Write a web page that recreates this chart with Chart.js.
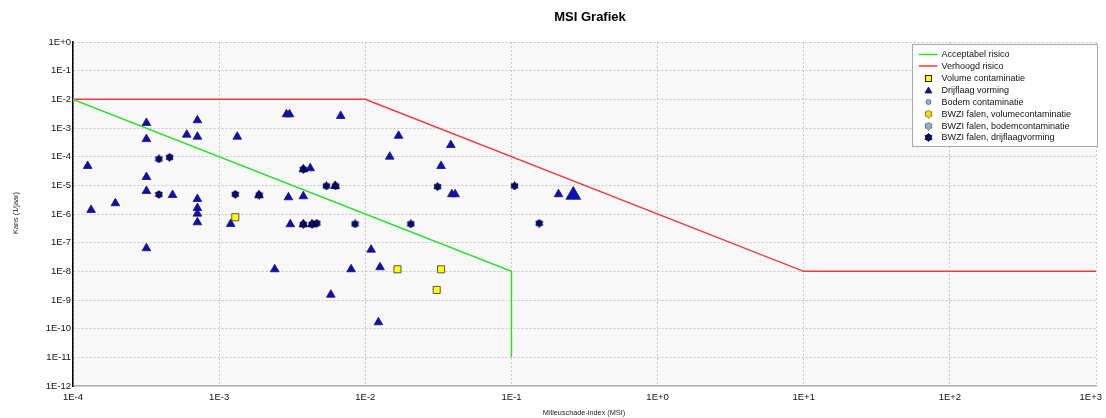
<!DOCTYPE html>
<html>
<head>
<meta charset="utf-8">
<script src="https://cdn.jsdelivr.net/npm/chart.js@4.4.0/dist/chart.umd.min.js"></script>
<style>
  html, body { margin: 0; padding: 0; background: #ffffff; }
  #wrap { width: 1106px; height: 418px; }
</style>
</head>
<body>
<div id="wrap"><canvas id="c" width="1106" height="418"></canvas></div>
<script>
// ---- Data ----
const titleText = 'MSI Grafiek';
const xAxisTitle = 'Milieuschade-index (MSI)';
const yAxisTitle = 'Kans (1/jaar)';

const xTickLabels = ['1E-4', '1E-3', '1E-2', '1E-1', '1E+0', '1E+1', '1E+2', '1E+3'];
const yTickLabels = ['1E+0', '1E-1', '1E-2', '1E-3', '1E-4', '1E-5', '1E-6', '1E-7', '1E-8', '1E-9', '1E-10', '1E-11', '1E-12'];

const seriesNames = ['Acceptabel risico', 'Verhoogd risico', 'Volume contaminatie', 'Drijflaag vorming',
  'Bodem contaminatie', 'BWZI falen, volumecontaminatie', 'BWZI falen, bodemcontaminatie', 'BWZI falen, drijflaagvorming'];

const acceptX = [1e-4, 1e-1, 1e-1];
const acceptY = [1e-2, 1e-8, 1e-11];

const verhoogdX = [1e-4, 1e-2, 1e1, 1e3];
const verhoogdY = [1e-2, 1e-2, 1e-8, 1e-8];

const volumeX = [1.29e-3, 1.66e-2, 3.30e-2, 3.08e-2];
const volumeY = [7.7e-7, 1.18e-8, 1.18e-8, 2.24e-9];

const drijfX = [1.26e-4, 1.33e-4, 1.95e-4, 3.18e-4, 3.18e-4, 3.18e-4, 3.18e-4, 3.18e-4, 4.8e-4, 6.0e-4,
  7.1e-4, 7.1e-4, 7.1e-4, 7.1e-4, 7.1e-4, 7.1e-4, 1.33e-3, 1.20e-3, 1.87e-3, 2.89e-3,
  3.03e-3, 6.79e-3, 3.77e-3, 4.2e-3, 6.21e-3, 2.98e-3, 3.77e-3, 3.07e-3, 3.77e-3, 4.32e-3,
  1.096e-2, 2.40e-3, 8.0e-3, 1.262e-2, 5.81e-3, 1.23e-2, 1.69e-2, 1.47e-2, 3.85e-2, 3.30e-2,
  3.91e-2, 4.12e-2, 0.210, 0.265];
const drijfY = [4.73e-5, 1.38e-6, 2.37e-6, 1.5e-3, 4.1e-4, 1.95e-5, 6.35e-6, 6.4e-8, 4.6e-6, 5.85e-4,
  1.86e-3, 4.97e-4, 3.34e-6, 1.62e-6, 1.03e-6, 5.14e-7, 4.97e-4, 4.49e-7, 4.5e-6, 3.0e-3,
  3.0e-3, 2.62e-3, 3.63e-5, 3.93e-5, 9.5e-6, 3.83e-6, 4.15e-6, 4.38e-7, 4.38e-7, 4.38e-7,
  5.7e-8, 1.18e-8, 1.18e-8, 1.39e-8, 1.53e-9, 1.67e-10, 5.35e-4, 1.0e-4, 2.55e-4, 4.73e-5,
  4.88e-6, 4.88e-6, 4.88e-6, 4.6e-6];

const bodemX = [];
const bodemY = [];
const bwziVolX = [];
const bwziVolY = [];
const bwziBodemX = [];
const bwziBodemY = [];

const bwziDrijfX = [3.87e-4, 4.58e-4, 3.87e-4, 1.29e-3, 1.88e-3, 3.77e-3, 5.42e-3, 6.27e-3, 3.77e-3, 4.32e-3,
  4.66e-3, 8.51e-3, 3.12e-2, 0.105, 2.05e-2, 0.155];
const bwziDrijfY = [8.3e-5, 9.5e-5, 4.8e-6, 4.88e-6, 4.6e-6, 3.63e-5, 9.5e-6, 9.5e-6, 4.38e-7, 4.38e-7,
  4.75e-7, 4.49e-7, 8.97e-6, 9.5e-6, 4.49e-7, 4.75e-7];

// ---- helpers ----
const pts = (xs, ys) => xs.map((x, i) => ({ x: x, y: ys[i] }));
const FONT = "'Liberation Sans', Arial, sans-serif";
const TICK_FONT_SIZE = 9.5;

function makeStar(fill, stroke, size) {
  const c = document.createElement('canvas');
  c.width = size; c.height = size;
  const g = c.getContext('2d');
  const cx = size / 2, R = size / 2 - 0.5, r = R * 0.72;
  g.beginPath();
  for (let i = 0; i < 12; i++) {
    const a = Math.PI / 6 * i - Math.PI / 2;
    const rad = (i % 2) ? r : R;
    g.lineTo(cx + rad * Math.cos(a), cx + rad * Math.sin(a));
  }
  g.closePath();
  g.fillStyle = fill; g.fill();
  g.lineWidth = 0.8; g.strokeStyle = stroke; g.stroke();
  return c;
}
const starDrijf = makeStar('#08087a', '#000018', 9);
const starVol = makeStar('#f5e000', '#555500', 9);
const starBodem = makeStar('#8fb0c8', '#506070', 9);

const GREEN = '#2be02b', RED = '#f23a3a';
const TRI_FILL = '#0c0cc8', TRI_BORDER = '#1a1a40';
const YEL_FILL = '#ffff00', YEL_BORDER = '#555555';
const BODEM_FILL = '#8fb8d0', BODEM_BORDER = '#607080';

const bigIndex = drijfX.length - 1;

const datasets = [
  { label: seriesNames[0], data: pts(acceptX, acceptY), showLine: true, borderColor: GREEN, borderWidth: 1.5,
    pointRadius: 0, fill: false, tension: 0, order: 5 },
  { label: seriesNames[1], data: pts(verhoogdX, verhoogdY), showLine: true, borderColor: RED, borderWidth: 1.5,
    pointRadius: 0, fill: false, tension: 0, order: 5 },
  { label: seriesNames[2], data: pts(volumeX, volumeY), showLine: false, pointStyle: 'rect', pointRadius: 5,
    backgroundColor: YEL_FILL, borderColor: YEL_BORDER, borderWidth: 1, order: 1 },
  { label: seriesNames[3], data: pts(drijfX, drijfY), showLine: false, pointStyle: 'triangle',
    pointRadius: (ctx) => ctx.dataIndex === bigIndex ? 8.5 : 5,
    backgroundColor: TRI_FILL, borderColor: TRI_BORDER, borderWidth: 0.8, order: 2 },
  { label: seriesNames[4], data: pts(bodemX, bodemY), showLine: false, pointStyle: 'circle', pointRadius: 3,
    backgroundColor: BODEM_FILL, borderColor: BODEM_BORDER, borderWidth: 1, order: 1 },
  { label: seriesNames[5], data: pts(bwziVolX, bwziVolY), showLine: false, pointStyle: starVol, order: 1 },
  { label: seriesNames[6], data: pts(bwziBodemX, bwziBodemY), showLine: false, pointStyle: starBodem, order: 1 },
  { label: seriesNames[7], data: pts(bwziDrijfX, bwziDrijfY), showLine: false, pointStyle: starDrijf, order: 1 }
];

const decorPlugin = {
  id: 'decor',
  beforeDraw(chart) {
    const { ctx, chartArea: a } = chart;
    ctx.save();
    ctx.fillStyle = '#f8f8f8';
    ctx.fillRect(a.left, a.top, a.right - a.left, a.bottom - a.top);
    ctx.restore();
  },
  afterDraw(chart) {
    const { ctx, chartArea: a } = chart;
    ctx.save();
    // Last x tick label kept inside the canvas
    ctx.fillStyle = '#111';
    ctx.font = TICK_FONT_SIZE + 'px ' + FONT;
    ctx.textAlign = 'right';
    ctx.textBaseline = 'top';
    ctx.fillText(xTickLabels[xTickLabels.length - 1], 1102, a.bottom + 7);
    // Title
    ctx.fillStyle = '#000';
    ctx.font = 'bold 13px ' + FONT;
    ctx.textAlign = 'center';
    ctx.textBaseline = 'middle';
    ctx.fillText(titleText, 590, 17);
    // X axis title
    ctx.font = '7.3px ' + FONT;
    ctx.fillStyle = '#222';
    ctx.fillText(xAxisTitle, 584, 413);
    // Y axis title
    ctx.save();
    ctx.translate(16, (a.top + a.bottom) / 2 - 1);
    ctx.rotate(-Math.PI / 2);
    ctx.fillText(yAxisTitle, 0, 0);
    ctx.restore();

    // Legend
    const bx = 912, by = 44, bw = 186, bh = 103;
    ctx.fillStyle = '#ffffff';
    ctx.fillRect(bx, by, bw, bh);
    ctx.strokeStyle = '#a8a8a8';
    ctx.lineWidth = 1;
    ctx.strokeRect(bx + 0.5, by + 0.5, bw - 1, bh - 1);
    const rows = [54.5, 66, 78.5, 90.5, 102, 114, 126, 137.5];
    const mx = 928.5, tx = 941.5;
    ctx.font = '9px ' + FONT;
    ctx.textAlign = 'left';
    ctx.textBaseline = 'middle';
    datasets.forEach((ds, i) => {
      const y = rows[i];
      ctx.save();
      if (i === 0 || i === 1) {
        ctx.strokeStyle = ds.borderColor; ctx.lineWidth = 1.5;
        ctx.beginPath(); ctx.moveTo(919, y); ctx.lineTo(937.5, y); ctx.stroke();
      } else if (i === 2) {
        ctx.fillStyle = YEL_FILL; ctx.strokeStyle = '#222'; ctx.lineWidth = 1;
        ctx.fillRect(mx - 3, y - 3, 6, 6); ctx.strokeRect(mx - 3, y - 3, 6, 6);
      } else if (i === 3) {
        ctx.fillStyle = TRI_FILL; ctx.strokeStyle = TRI_BORDER; ctx.lineWidth = 0.8;
        ctx.beginPath(); ctx.moveTo(mx, y - 3.5); ctx.lineTo(mx + 3.5, y + 2.5); ctx.lineTo(mx - 3.5, y + 2.5);
        ctx.closePath(); ctx.fill(); ctx.stroke();
      } else if (i === 4) {
        ctx.fillStyle = BODEM_FILL; ctx.strokeStyle = BODEM_BORDER; ctx.lineWidth = 1;
        ctx.beginPath(); ctx.arc(mx, y, 2.5, 0, Math.PI * 2); ctx.fill(); ctx.stroke();
      } else {
        const img = ds.pointStyle;
        ctx.drawImage(img, mx - img.width / 2, y - img.height / 2);
      }
      ctx.restore();
      ctx.fillStyle = '#111';
      ctx.fillText(ds.label, tx, y + 0.5);
    });
    ctx.restore();
  }
};

const fmtTicks = (labels) => (scale) => {
  scale.ticks = labels.map(l => ({ value: Number(l), label: l }));
};
const labelFor = (labels, skipLast) => function (v) {
  const i = labels.findIndex(l => Math.abs(Number(l) - v) < v * 1e-6);
  if (skipLast && i === labels.length - 1) return '';
  return i >= 0 ? labels[i] : '';
};

new Chart(document.getElementById('c'), {
  type: 'scatter',
  data: { datasets: datasets },
  options: {
    responsive: false,
    animation: false,
    devicePixelRatio: 1,
    layout: { padding: { top: 42, right: 10, bottom: 0, left: 0 } },
    plugins: {
      legend: { display: false },
      title: { display: false },
      tooltip: { enabled: false }
    },
    scales: {
      x: {
        type: 'logarithmic',
        min: 1e-4, max: 1e3,
        afterBuildTicks: fmtTicks(xTickLabels),
        afterFit: (s) => { s.height = 32; s.paddingRight = 0; s.paddingLeft = 0; },
        ticks: {
          autoSkip: false, maxRotation: 0, padding: 6, color: '#111',
          font: { family: FONT, size: TICK_FONT_SIZE },
          callback: labelFor(xTickLabels, true)
        },
        grid: { color: '#c8c8c8', lineWidth: 1, drawTicks: false },
        border: { display: true, color: '#b0b0b0', width: 1.5, dash: [2, 2] }
      },
      y: {
        type: 'logarithmic',
        min: 1e-12, max: 1,
        afterBuildTicks: fmtTicks(yTickLabels),
        afterFit: (s) => { s.width = 73; },
        ticks: {
          autoSkip: false, padding: 2, color: '#111',
          font: { family: FONT, size: TICK_FONT_SIZE },
          callback: labelFor(yTickLabels, false)
        },
        grid: { color: '#c8c8c8', lineWidth: 1, drawTicks: false },
        border: { display: true, color: '#000000', width: 1.5, dash: [2, 2] }
      }
    }
  },
  plugins: [decorPlugin]
});
</script>
</body>
</html>
